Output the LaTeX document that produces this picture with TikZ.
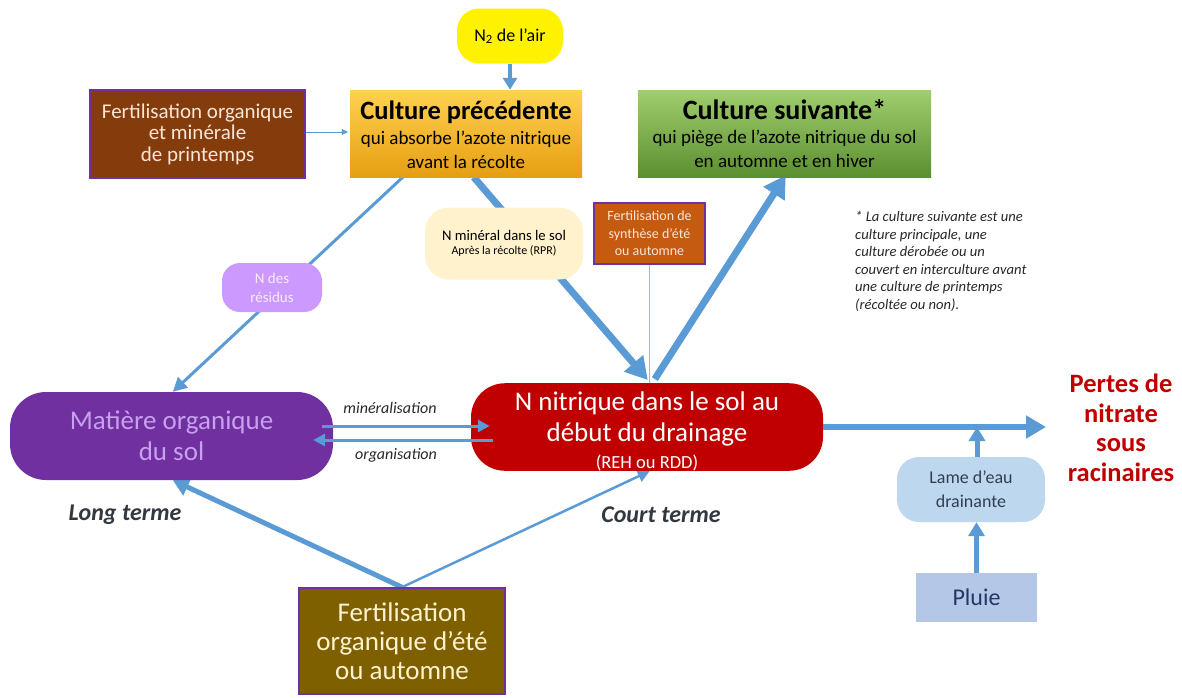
\documentclass[tikz,border=0pt]{standalone}
\usepackage{fontspec}
\setmainfont{Carlito}
\usetikzlibrary{arrows.meta,calc,positioning}
\definecolor{flow}{RGB}{91,155,213}
\definecolor{purp}{RGB}{112,48,160}
\definecolor{redbox}{RGB}{192,0,0}
\definecolor{inktext}{RGB}{40,40,40}
\definecolor{termtext}{RGB}{50,56,64}
\pgfdeclarelayer{bg}
\pgfsetlayers{bg,main}
\newcommand{\fs}[2]{\fontsize{#1}{#2}\selectfont}
\tikzset{
  flowline/.style={draw=flow, line width=#1},
  head/.style 2 args={-{Triangle[length=#1,width=#2]}},
  fertbox/.style={draw=purp, line width=1.6pt, inner sep=0pt, align=center},
  pill/.style={rounded corners=#1, inner sep=0pt, align=center},
  termlabel/.style={font=\bfseries\itshape\fs{24}{28}, text=termtext},
  arrowlabel/.style={font=\itshape\fs{16}{19}, text=inktext},
}
\begin{document}
\begin{tikzpicture}[x=1pt,y=-1pt]
\useasboundingbox (0,0) rectangle (1182,697);

% --- nodes ---
\node[pill=22pt, fill=yellow, minimum width=106pt, minimum height=55pt, font=\fs{18}{21}] (air) at (510,36) {N\textsubscript{2} de l’air};

\node[inner sep=0pt, minimum width=232pt, minimum height=87pt, align=center, font=\fs{19}{24},
      top color={rgb,255:red,255;green,210;blue,80}, bottom color={rgb,255:red,230;green,158;blue,18}]
      (prec) at (466,133.5) {{\bfseries\fs{26.5}{30}\rule{0pt}{22pt}Culture précédente}\\[1pt]qui absorbe l’azote nitrique\\avant la récolte};

\node[inner sep=0pt, minimum width=293pt, minimum height=87pt, align=center, font=\fs{19}{23.5},
      top color={rgb,255:red,160;green,206;blue,110}, bottom color={rgb,255:red,92;green,143;blue,48}]
      (suiv) at (784.5,133.5) {{\bfseries\fs{28}{30}Culture suivante*}\\[1pt]qui piège de l’azote nitrique du sol\\en automne et en hiver};

\node[fertbox, fill={rgb,255:red,132;green,60;blue,12}, text={rgb,255:red,251;green,229;blue,214},
      minimum width=215pt, minimum height=88pt, font=\fs{21}{21.5}]
      (fprint) at (197.5,134) {Fertilisation organique\\et minérale\\de printemps};

\node[pill=24pt, fill={rgb,255:red,255;green,242;blue,204}, minimum width=158pt, minimum height=72pt, font=\fs{12}{14}]
      (nmin) at (504,243.5) {{\fs{14.7}{17}N minéral dans le sol}\\Après la récolte (RPR)};

\node[fertbox, line width=1.4pt, fill={rgb,255:red,197;green,90;blue,17}, text={rgb,255:red,251;green,229;blue,214},
      minimum width=111pt, minimum height=61pt, font=\fs{14}{17.5}]
      (fsynth) at (649.5,233.5) {Fertilisation de\\synthèse d’été\\ou automne};

\node[pill=18pt, fill={rgb,255:red,204;green,153;blue,255}, text={rgb,255:red,246;green,236;blue,255},
      minimum width=100pt, minimum height=49pt, font=\fs{15}{19}]
      (res) at (272,287.5) {N des\\résidus};

\node[pill=36pt, fill=purp, text={rgb,255:red,200;green,160;blue,240},
      minimum width=323pt, minimum height=88pt, font=\fs{27}{31}]
      (mos) at (171.5,436) {Matière organique\\du sol};

\node[pill=34pt, fill=redbox, text=white, minimum width=352pt, minimum height=86pt, font=\fs{27}{31}]
      (nit) at (647,427) {\rule{0pt}{27pt}N nitrique dans le sol au\\début du drainage\\[-4pt]{\fs{18.5}{22}(REH ou RDD)}};

\node[fertbox, fill={rgb,255:red,127;green,96;blue,0}, text={rgb,255:red,255;green,242;blue,204},
      minimum width=206pt, minimum height=106pt, font=\fs{27}{29}]
      (fete) at (402,641) {Fertilisation\\organique d’été\\ou automne};

\node[pill=22pt, fill={rgb,255:red,189;green,215;blue,238}, text={rgb,255:red,50;green,62;blue,80},
      minimum width=148pt, minimum height=65pt, font=\fs{18}{24}]
      (lame) at (971,489.5) {Lame d’eau\\drainante};

\node[inner sep=0pt, fill={rgb,255:red,180;green,199;blue,231}, text={rgb,255:red,32;green,56;blue,100},
      minimum width=121pt, minimum height=49pt, font=\fs{24}{28}]
      (pluie) at (976.5,597.5) {Pluie};

\node[text=redbox, font=\bfseries\fs{26.5}{29.5}, align=center, inner sep=0pt]
      (pertes) at (1121,428) {Pertes de\\nitrate\\sous\\racinaires};

\node[font=\itshape\fs{14.6}{17.6}, text=inktext, align=left, anchor=north west, inner sep=0pt]
      (note) at (855,211) {* La culture suivante est une\\culture principale, une\\culture dérobée ou un\\couvert en interculture avant\\une culture de printemps\\(récoltée ou non).};

\node[termlabel] (lt) at (125,515) {Long terme};
\node[termlabel] (ct) at (661,515) {Court terme};

\node[arrowlabel] (lmin) at (390,408) {minéralisation};
\node[arrowlabel] (lorg) at (396,455) {organisation};

% --- connection points ---
\coordinate (precA) at ($(prec.south west)+(53,0)$);
\coordinate (precB) at ($(prec.south west)+(124,0)$);
\coordinate (mosTop) at ($(mos.north west)+(163,0)$);
\coordinate (mosBot) at ($(mos.south west)+(163,0)$);
\coordinate (nitTopIn) at ($(nit.north west)+(177,-3)$);
\coordinate (nitTopOut) at ($(nit.north west)+(184,-4)$);
\coordinate (nitBot) at ($(nit.south west)+(179,0)$);
\coordinate (suivBot) at ($(suiv.south west)+(148,-2)$);
\coordinate (fout) at (1046,427);
\coordinate (join) at (977,427);

% --- connectors behind the boxes ---
\begin{pgfonlayer}{bg}
  \draw[flowline=3pt, head={14pt}{14pt}] (precA) -- (mosTop);
  \draw[flowline=7pt, head={22pt}{24pt}] (precB) -- (nitTopIn);
  \draw[flowline=7pt, head={22pt}{24pt}] (nitTopOut) -- (suivBot);
  \draw[draw={rgb,255:red,150;green,185;blue,220}, line width=0.8pt] (fsynth.south) -- (fsynth.south |- nit.north);
  \draw[flowline=5pt, head={16pt}{18pt}] (fete.north) -- (mosBot);
  \draw[flowline=2.5pt, head={12pt}{12pt}] (fete.north) -- (nitBot);
\end{pgfonlayer}

% --- connectors on top ---
\draw[flowline=4pt, head={12pt}{14pt}] (air.south) -- (air.south |- prec.north);
\draw[flowline=0.8pt, head={6pt}{6pt}] ($(fprint.east)+(0,-2)$) -- ($(fprint.east -| prec.west)+(-2,-2)$);
\draw[flowline=3pt, head={12pt}{12pt}] ($(mos.east)+(-11,-10)$) -- ($(nit.west)+(19,-1)$);
\draw[flowline=3pt, head={12pt}{12pt}] ($(nit.west)+(22,13)$) -- ($(mos.east)+(-20,4)$);
\draw[flowline=6pt, head={20pt}{22pt}] (nit.east) -- (fout);
\draw[flowline=5pt, head={14pt}{16pt}] (lame.north -| join) -- (join);
\draw[flowline=5pt, head={14pt}{16pt}] (pluie.north) -- (pluie.north |- lame.south);
\end{tikzpicture}
\end{document}
